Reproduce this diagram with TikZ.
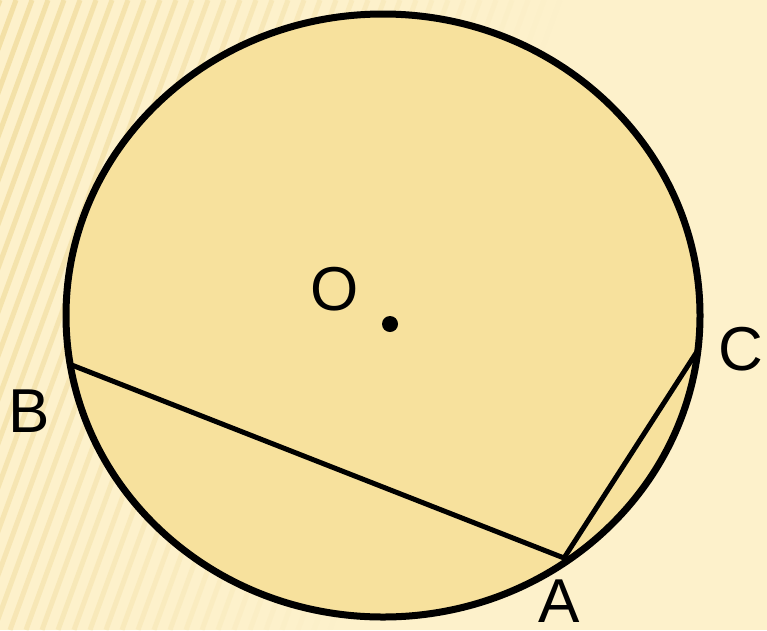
\documentclass[tikz,border=0pt]{standalone}
\usepackage{fontspec}
\setmainfont{Liberation Sans}
\usetikzlibrary{positioning}

\definecolor{bgcream}{RGB}{253,241,203}
\definecolor{stripe}{RGB}{236,212,140}
\definecolor{discfill}{RGB}{247,225,157}

\begin{document}
\begin{tikzpicture}[
  x=1pt, y=-1pt,
  font=\fontsize{62}{62}\selectfont,
  rim/.style={draw=black, line width=7pt, fill=discfill},
  chord/.style={draw=black, line width=5pt, line cap=round},
  ptlabel/.style={anchor=base, inner sep=0pt}
]
\useasboundingbox (0,0) rectangle (767,630);
\fill[bgcream] (0,0) rectangle (767,630);

% background texture
\begin{scope}
  \clip (0,0) rectangle (767,630);
  \foreach \x in {-230,-214,...,330} {
    \pgfmathsetmacro\op{max(0,0.6-(\x+230)/950)}
    \draw[stripe, line width=5pt, opacity=\op] (\x,630) -- (\x+230,0);
  }
\end{scope}

% circle
\coordinate (O) at (383,315.5);
\path[rim] (O) ellipse [x radius=317pt, y radius=301.5pt];

% points on the circle
\coordinate (B) at (71.7,365);
\coordinate (C) at (698,350);
\coordinate (A) at (564,558);

\draw[chord] (B) -- (A) -- (C);
\fill[black] (390,324) circle [radius=8pt];

% labels
\node[ptlabel] (labO) at (335,310) {O};
\node[ptlabel] (labB) at (29.5,432) {B};
\node[ptlabel] (labC) at (741,370) {C};
\node[ptlabel] (labA) at (559,622) {A};
\end{tikzpicture}
\end{document}
